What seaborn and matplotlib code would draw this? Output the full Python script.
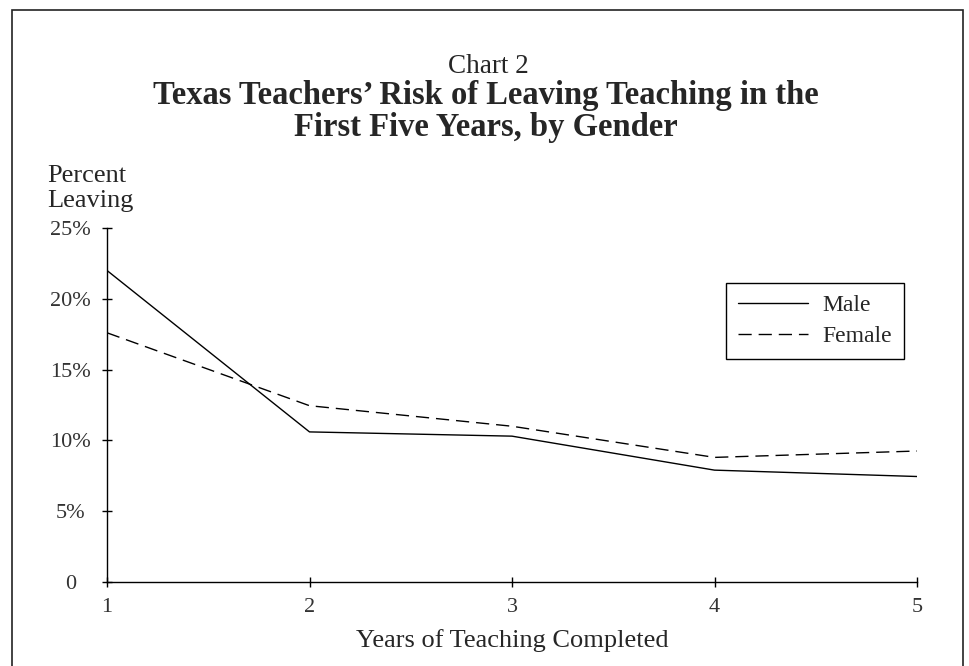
import pandas as pd
import matplotlib.pyplot as plt
import matplotlib.patches as patches
import seaborn as sns

# values (percent leaving after each year)
years = [1, 2, 3, 4, 5]
male = [22.0, 10.6, 10.3, 7.9, 7.45]
female = [17.6, 12.45, 11.0, 8.8, 9.25]
y_ticks = [0, 5, 10, 15, 20, 25]
y_tick_labels = ['0', '5%', '10%', '15%', '20%', '25%']

df = pd.DataFrame({
    'year': years * 2,
    'pct': male + female,
    'gender': ['Male'] * len(years) + ['Female'] * len(years),
})

sns.set_style('ticks')
plt.rcParams['font.family'] = ['Liberation Serif', 'DejaVu Serif']

fig = plt.figure(figsize=(9.69, 6.66), dpi=100)
ax = fig.add_axes([107 / 969, 1 - 582 / 666, 810 / 969, 354 / 666])

sns.lineplot(data=df, x='year', y='pct', style='gender', color='black',
             dashes={'Male': '', 'Female': (9.5, 5)}, linewidth=1.0, ax=ax)

ax.set_xlim(1, 5)
ax.set_ylim(0, 25)
ax.set_xticks(years)
ax.set_yticks(y_ticks)
ax.set_yticklabels(y_tick_labels)
ax.tick_params(axis='both', direction='inout', length=7, width=1.0,
               colors='black', labelsize=16)
ax.tick_params(axis='x', pad=8)
ax.tick_params(axis='y', pad=23)
for lab in ax.get_yticklabels():
    lab.set_ha('center')
for lab in ax.get_xticklabels() + ax.get_yticklabels():
    lab.set_color('#333333')
sns.despine(ax=ax)
for s in ['left', 'bottom']:
    ax.spines[s].set_linewidth(1.0)
    ax.spines[s].set_color('black')

ax.set_xlabel('Years of Teaching Completed', fontsize=19, labelpad=9)
ax.set_ylabel('')

leg = ax.legend(loc='upper right', bbox_to_anchor=(0.984, 0.846),
                borderaxespad=0, fontsize=17, handlelength=3.0,
                handletextpad=0.6, borderpad=0.5, labelspacing=0.4,
                fancybox=False, edgecolor='black', framealpha=1,
                title=None)
leg.get_frame().set_linewidth(1.0)
for h in leg.get_lines():
    h.set_color('black')
    h.set_linewidth(1.0)

# titles
fig.text(488 / 969, 1 - 73 / 666, 'Chart 2', ha='center', va='baseline',
         fontsize=19.5)
fig.text(486 / 969, 1 - 104 / 666,
         'Texas Teachers\u2019 Risk of Leaving Teaching in the',
         ha='center', va='baseline', fontsize=23.5, fontweight='bold')
fig.text(486 / 969, 1 - 136 / 666, 'First Five Years, by Gender',
         ha='center', va='baseline', fontsize=23.5, fontweight='bold')

# y axis caption
fig.text(47 / 969, 1 - 182 / 666, 'Percent', ha='left', va='baseline',
         fontsize=19)
fig.text(47 / 969, 1 - 207 / 666, 'Leaving', ha='left', va='baseline',
         fontsize=19)

# outer frame (bottom edge falls off the picture)
frame = patches.Rectangle((12 / 969, -0.1), 951 / 969, 1.1 - 10 / 666,
                          transform=fig.transFigure, fill=False,
                          edgecolor='#222222', linewidth=1.2, clip_on=False)
fig.patches.append(frame)

fig.savefig('out.png', dpi=100)
